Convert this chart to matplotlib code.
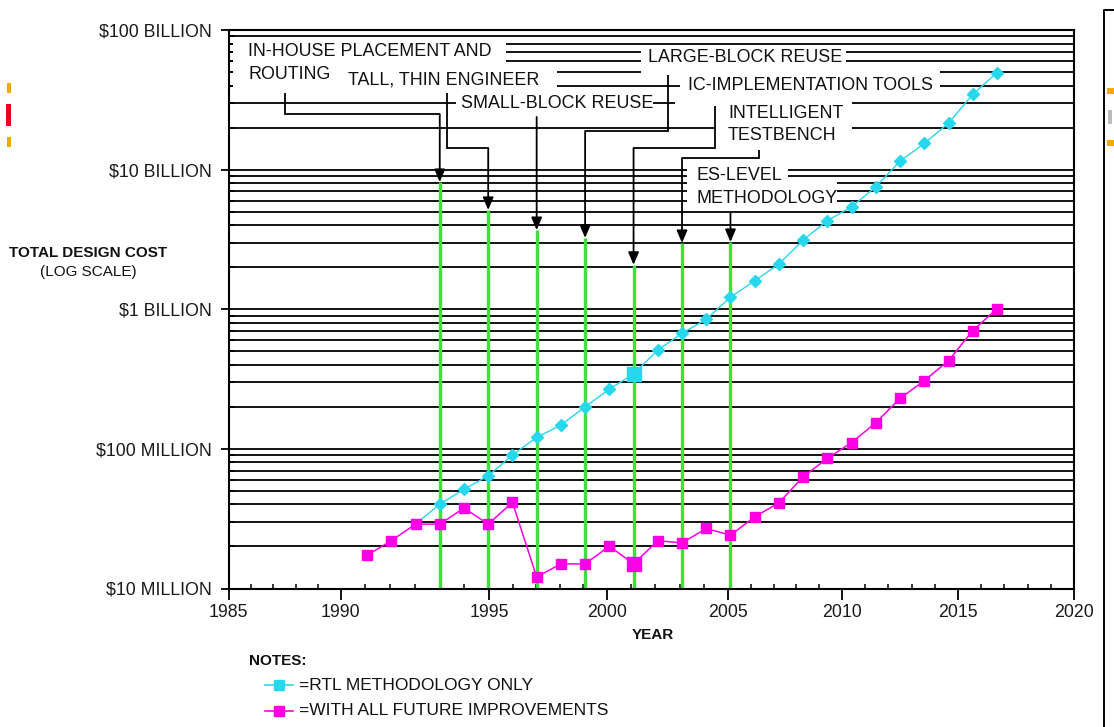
import numpy as np
import matplotlib
matplotlib.use("Agg")
import matplotlib.pyplot as plt
import matplotlib.transforms as mtrans
from matplotlib.patches import Rectangle
from matplotlib.lines import Line2D
from matplotlib import font_manager as fm

plt.rcParams['text.parse_math'] = False

# ---------------- data ----------------
years_improved = list(range(1990, 2017))
cost_improved = [17.3e6, 22.0e6, 28.9e6, 28.9e6, 37.7e6, 28.9e6, 41.4e6, 12.1e6, 15.0e6, 15.0e6,
                 20.1e6, 15.0e6, 22.0e6, 21.2e6, 26.9e6, 24.1e6, 32.6e6, 41.1e6, 63.1e6, 85.5e6,
                 111e6, 154e6, 230e6, 308e6, 428e6, 702e6, 1.01e9]

years_rtl = list(range(1992, 2017))
cost_rtl = [28.9e6, 40.2e6, 51.3e6, 64.1e6, 90.3e6, 121e6, 148e6, 200e6, 268e6, 344e6,
            510e6, 672e6, 847e6, 1.22e9, 1.60e9, 2.11e9, 3.13e9, 4.31e9, 5.42e9, 7.54e9,
            11.5e9, 15.4e9, 21.5e9, 34.6e9, 49.4e9]

milestone_years = [1993, 1995, 1997, 1999, 2001, 2003, 2005]
milestone_labels = ["IN-HOUSE PLACEMENT AND\nROUTING", "TALL, THIN ENGINEER", "SMALL-BLOCK REUSE",
                    "LARGE-BLOCK REUSE", "IC-IMPLEMENTATION TOOLS", "INTELLIGENT\nTESTBENCH",
                    "ES-LEVEL\nMETHODOLOGY"]
milestone_arrow_cost = [8.15e9, 5.14e9, 3.69e9, 3.24e9, 2.08e9, 2.98e9, 3.03e9]

y_ticks = [1e7, 1e8, 1e9, 1e10, 1e11]
y_tick_labels = ["$10 MILLION", "$100 MILLION", "$1 BILLION", "$10 BILLION", "$100 BILLION"]
x_tick_labels = ["1985", "1990", "1995", "2000", "2005", "2010", "2015", "2020"]

highlight_year = 2001
legend_labels = ["=RTL METHODOLOGY ONLY", "=WITH ALL FUTURE IMPROVEMENTS"]

# ---------------- layout / style ----------------
W, H = 1114, 727
AX_L, AX_R, AX_T, AX_B = 228.5, 1074, 30, 588.5
X_MIN, X_MAX = 1984.28, 2019.18
x_tick_px = [228.5, 340.7, 489, 607, 728, 842, 958, 1074]   # hand-drawn axis of the reference
minor_counts = [5, 6, 5, 5, 5, 5, 5]

CYAN = '#27d8ec'
MAGENTA = '#ff00e6'
GREEN = '#3fe03c'


def has_font(name):
    try:
        fm.findfont(fm.FontProperties(family=name), fallback_to_default=False)
        return True
    except Exception:
        return False


REG = 'Liberation Sans' if has_font('Liberation Sans') else 'DejaVu Sans'
NARROW = 'Liberation Sans Narrow' if has_font('Liberation Sans Narrow') else REG
NARROW_SIZE = 12 if NARROW != REG else 11

fig = plt.figure(figsize=(W / 100, H / 100), dpi=100)
fig.patch.set_facecolor('white')
ax = fig.add_axes([AX_L / W, 1 - AX_B / H, (AX_R - AX_L) / W, (AX_B - AX_T) / H])
pix = mtrans.Affine2D().scale(1.0 / W, -1.0 / H).translate(0, 1) + fig.transFigure

ax.set_yscale('log')
ax.set_ylim(y_ticks[0], y_ticks[-1])
ax.set_xlim(X_MIN, X_MAX)

# ---- axes, ticks, grid
inv = ax.transData.inverted()


def px_to_year(xp):
    return inv.transform((xp, 100.0))[0]


major_x = [px_to_year(p) for p in x_tick_px]
minor_x = []
for i, n in enumerate(minor_counts):
    seg = np.linspace(x_tick_px[i], x_tick_px[i + 1], n + 1)[1:-1]
    minor_x.extend(px_to_year(p) for p in seg)
ax.set_xticks(major_x)
ax.set_xticklabels(x_tick_labels)
ax.set_xticks(minor_x, minor=True)

ax.set_yticks(y_ticks)
ax.set_yticklabels(y_tick_labels)
minor_y = [m * d for d in y_ticks[:-1] for m in range(2, 10)]
ax.set_yticks(minor_y, minor=True)
ax.yaxis.set_minor_formatter(matplotlib.ticker.NullFormatter())

ax.tick_params(axis='y', which='major', direction='out', length=6, width=1.3, pad=6,
               labelsize=12.8, labelcolor='#1a1a1a')
ax.tick_params(axis='y', which='minor', direction='in', length=4, width=1.1)
ax.tick_params(axis='x', which='major', direction='out', length=8, width=1.3, pad=3,
               labelsize=12.8, labelcolor='#1a1a1a')
ax.tick_params(axis='x', which='minor', direction='in', length=3.5, width=1.1)
for lab in ax.get_xticklabels() + ax.get_yticklabels():
    lab.set_fontfamily(REG)

ax.grid(True, axis='y', which='both', color='black', lw=1.3)
ax.grid(False, axis='x', which='both')
for sp in ax.spines.values():
    sp.set_linewidth(1.5)
    sp.set_color('black')

# ---- milestone green lines
ax.vlines(milestone_years, y_ticks[0], milestone_arrow_cost, colors=GREEN, lw=2.4, zorder=2.2)

# ---- series
ax.plot(years_rtl, cost_rtl, '-', color=CYAN, lw=1.0, zorder=3)
ax.plot(years_improved, cost_improved, '-', color=MAGENTA, lw=1.1, zorder=3.1)

rtl_y = np.array(years_rtl)
rtl_c = np.array(cost_rtl)
norm = (rtl_y != highlight_year) & (rtl_y != rtl_y[0])
ax.plot(rtl_y[norm], rtl_c[norm], 'D', ms=6.2, color=CYAN, mec=CYAN, zorder=3.2)
ax.plot(rtl_y[rtl_y == highlight_year], rtl_c[rtl_y == highlight_year], 's', ms=10.5,
        color=CYAN, mec=CYAN, zorder=3.2)

imp_y = np.array(years_improved)
imp_c = np.array(cost_improved)
ax.plot(imp_y[imp_y != highlight_year], imp_c[imp_y != highlight_year], 's', ms=7.2,
        color=MAGENTA, mec=MAGENTA, zorder=3.3)
ax.plot(imp_y[imp_y == highlight_year], imp_c[imp_y == highlight_year], 's', ms=10.5,
        color=MAGENTA, mec=MAGENTA, zorder=3.3)

# ---- white masks behind the annotation texts (px: x0, x1, y0, y1)
masks = [
    (233, 506, 39, 65),
    (233, 557, 65, 92),
    (456, 653, 93, 115),
    (641, 846, 45, 75),
    (680, 940, 68, 97),
    (675, 852, 97, 120),
    (716, 852, 120, 150),
    (687, 788, 165, 180),
    (687, 837, 180, 206),
]
for x0, x1, y0, y1 in masks:
    ax.add_patch(Rectangle((x0, y0), x1 - x0, y1 - y0, transform=pix, facecolor='white',
                           edgecolor='none', zorder=2.8))

# ---- annotation texts
label_pos = [(248, 52), (348, 80), (461, 104), (648, 58), (688, 86), (728, 113), (697, 176)]
LINE_H = 22.5
for (lx, ly), txt in zip(label_pos, milestone_labels):
    for k, line in enumerate(txt.split('\n')):
        ax.text(lx, ly + k * LINE_H, line, transform=pix, ha='left', va='center',
                fontsize=12.9, family=REG, color='#111111', zorder=5, clip_on=False)

# ---- leader lines and arrows
leader_start = [(285, 93), (447.3, 93), None, (668, 75), (715, 106), (759, 150), None]
leader_turn_y = [114, 148, 117, 131, 148, 158, 213]
for yr, tip, start, ty in zip(milestone_years, milestone_arrow_cost, leader_start, leader_turn_y):
    xm = ax.transData.transform((yr, tip))[0]
    if start is not None:
        sx, sy = start
        ax.add_line(Line2D([sx, sx, xm], [sy, ty, ty], transform=pix, color='black',
                           lw=1.3, zorder=4, solid_capstyle='butt', solid_joinstyle='miter'))
    ax.annotate('', xy=(yr, tip), xycoords='data', xytext=(xm, ty), textcoords=pix,
                arrowprops=dict(arrowstyle='-|>,head_length=0.75,head_width=0.32',
                                mutation_scale=10, color='black', lw=1.3,
                                shrinkA=0, shrinkB=0), zorder=4)

# ---- axis titles and notes
fig.text(88 / W, 1 - 253 / H, "TOTAL DESIGN COST", ha='center', va='center', fontsize=NARROW_SIZE,
         family=NARROW, weight='bold', color='#111111')
fig.text(88 / W, 1 - 272 / H, "(LOG SCALE)", ha='center', va='center', fontsize=NARROW_SIZE,
         family=NARROW, color='#111111')
fig.text(653 / W, 1 - 635 / H, "YEAR", ha='center', va='center', fontsize=NARROW_SIZE,
         family=NARROW, weight='bold', color='#111111')
fig.text(249 / W, 1 - 661 / H, "NOTES:", ha='left', va='center', fontsize=NARROW_SIZE,
         family=NARROW, weight='bold', color='#111111')

# ---- legend (manual, as in the reference)
for (ly, col, lab) in [(685, CYAN, legend_labels[0]), (710.5, MAGENTA, legend_labels[1])]:
    fig.add_artist(Line2D([265 / W, 293 / W], [1 - ly / H, 1 - ly / H], color=col, lw=1.2))
    fig.add_artist(Line2D([279 / W], [1 - ly / H], marker='s', ms=6.5, color=col, mec=col))
    fig.text(299 / W, 1 - ly / H, lab, ha='left', va='center', fontsize=12.5, family=REG,
             color='#111111')

# ---- page edge artefacts of the scanned figure
fig.add_artist(Line2D([1104 / W, 1104 / W, 1 / 1], [0, 1 - 10 / H, 1 - 10 / H], color='black', lw=1.4))
for (x0, x1, y0, y1, c) in [(1107, 1114, 88, 94, '#f2a900'), (1107, 1114, 140, 146, '#f2a900'),
                            (1108, 1112, 110, 124, '#bbbbbb'),
                            (7, 11, 83, 93, '#f2a900'), (6, 11, 104, 126, '#e8001c'),
                            (7, 11, 137, 147, '#f2a900')]:
    fig.add_artist(Rectangle((x0 / W, 1 - y1 / H), (x1 - x0) / W, (y1 - y0) / H,
                             transform=fig.transFigure, facecolor=c, edgecolor='none'))

fig.savefig('out.png', dpi=100, facecolor='white')
